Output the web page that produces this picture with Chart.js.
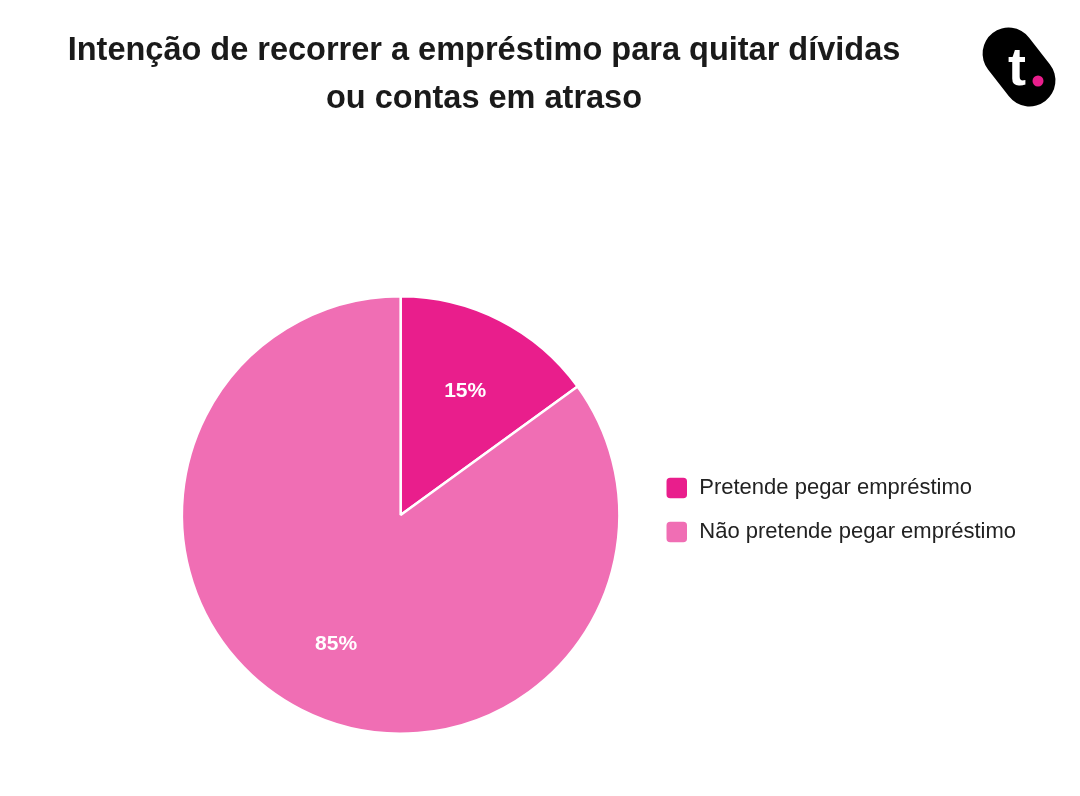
<!DOCTYPE html>
<html>
<head>
<meta charset="utf-8">
<script src="https://cdn.jsdelivr.net/npm/chart.js@4.4.1/dist/chart.umd.min.js"></script>
<style>
  html, body { margin: 0; padding: 0; background: #fff; }
  #wrap { width: 1080px; height: 796px; }
</style>
</head>
<body>
<div id="wrap"><canvas id="pieChart"></canvas></div>
<script>
/************************ DATA ************************** */
const categories = ["Pretende pegar empréstimo", "Não pretende pegar empréstimo"];
const values = [15, 85];
const sliceColors = ["#E91E8C", "#F06EB4"];
const titleLines = ["Intenção de recorrer a empréstimo para quitar dívidas", "ou contas em atraso"];

const fontFamily = "'Liberation Sans', Arial, Helvetica, sans-serif";

/************************ PLUGINS ************************** */
// titre centré + logo en haut à droite
const headerPlugin = {
  id: "header",
  afterDraw(chart) {
    const c = chart.ctx;
    c.save();
    c.fillStyle = "#1a1a1a";
    c.font = "bold 32.5px " + fontFamily;
    c.textAlign = "center";
    c.textBaseline = "alphabetic";
    c.fillText(titleLines[0], 484, 60);
    c.fillText(titleLines[1], 484, 108);

    // logo
    c.translate(1019, 67);
    c.rotate(-0.66);
    c.fillStyle = "#000";
    c.beginPath();
    c.roundRect(-26, -43, 52, 86, 26);
    c.fill();
    c.setTransform(chart.currentDevicePixelRatio, 0, 0, chart.currentDevicePixelRatio, 0, 0);
    c.fillStyle = "#fff";
    c.font = "bold 54px " + fontFamily;
    c.textAlign = "center";
    c.fillText("t", 1017, 85);
    c.fillStyle = "#E91E8C";
    c.beginPath();
    c.arc(1038, 81, 5.5, 0, Math.PI * 2);
    c.fill();
    c.restore();
  },
};

// pourcentages sur les parts
const sliceLabels = {
  id: "sliceLabels",
  afterDatasetsDraw(chart) {
    const c = chart.ctx;
    const meta = chart.getDatasetMeta(0);
    c.save();
    c.fillStyle = "#fff";
    c.font = "bold 21px " + fontFamily;
    c.textAlign = "center";
    c.textBaseline = "middle";
    meta.data.forEach((arc, i) => {
      const p = arc.getProps(["x", "y", "startAngle", "endAngle", "outerRadius"], true);
      const mid = (p.startAngle + p.endAngle) / 2;
      const r = p.outerRadius * 0.65;
      c.fillText(values[i] + "%", p.x + Math.cos(mid) * r, p.y + Math.sin(mid) * r + 2.5);
    });
    c.restore();
  },
};

// remonte un peu la légende
const legendShift = {
  id: "legendShift",
  afterLayout(chart) {
    if (chart.legend) {
      chart.legend.top -= 5;
      chart.legend.bottom -= 5;
    }
  },
};

/************************ CHART ************************** */
const ctx = document.getElementById("pieChart");
const config = {
  type: "pie",
  data: {
    labels: categories,
    datasets: [
      {
        data: values,
        backgroundColor: sliceColors,
        borderColor: "#fff",
        borderWidth: 2.5,
        hoverOffset: 0,
      },
    ],
  },
  options: {
    responsive: true,
    maintainAspectRatio: false,
    animation: false,
    layout: {
      padding: { top: 295, bottom: 61, left: 157, right: 54 },
    },
    plugins: {
      title: { display: false },
      tooltip: { enabled: false },
      legend: {
        position: "right",
        align: "center",
        labels: {
          boxWidth: 23,
          boxHeight: 23,
          useBorderRadius: true,
          borderRadius: 5,
          padding: 21,
          color: "#222",
          font: { family: fontFamily, size: 22 },
        },
      },
    },
  },
  plugins: [sliceLabels, headerPlugin, legendShift],
};

const myPieChart = new Chart(ctx, config);
</script>
</body>
</html>
